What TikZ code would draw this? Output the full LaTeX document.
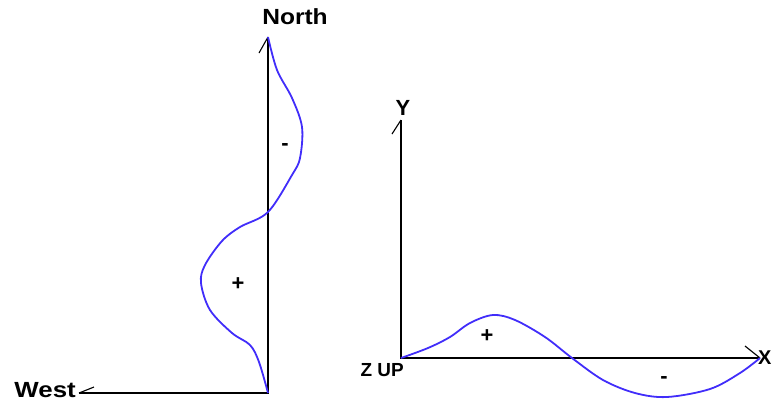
\documentclass[tikz,border=0pt]{standalone}
\usepackage{fontspec}
\setmainfont{Liberation Sans}
\begin{document}
\begin{tikzpicture}[x=1bp,y=-1bp,
  axis/.style={line width=1.2bp,black},
  tickln/.style={line width=1.1bp,black},
  wave/.style={line width=1.8bp,color=wavecol,line join=round},
  lbl/.style={font=\bfseries\fontsize{22}{22}\selectfont,inner sep=0pt},
  sign/.style={font=\bfseries\fontsize{22}{22}\selectfont,inner sep=0pt}]
\definecolor{wavecol}{RGB}{65,45,250}
\useasboundingbox (0,0) rectangle (772,404);
% left diagram
\coordinate (ntop) at (268,37);
\coordinate (norig) at (268,393);
\coordinate (wend) at (79,393);
\draw[axis] (ntop) -- (norig) -- (wend);
\coordinate (ntick) at (259,53);
\coordinate (wtick) at (94,387);
\draw[tickln] (ntop) -- (ntick);
\draw[tickln] (wend) -- (wtick);
\node[lbl,xscale=1.12] (north) at (295,17) {North};
\node[lbl,xscale=1.18,anchor=east] (west) at (76,390) {West};
\draw[wave] plot[smooth,tension=0.55] coordinates {(268,37) (277,70) (292,98) (302,127) (300,158) (292,175) (268,212) (240,227) (222,241) (205,265) (201,283) (210,310) (232,333) (250,345) (259,362) (268,393)};
\node[sign] (minusL) at (285,147) {-};
\node[sign] (plusL) at (238,284) {+};
% right diagram
\coordinate (ytop) at (401,120);
\coordinate (orig) at (401,358);
\coordinate (xend) at (760,358);
\draw[axis] (ytop) -- (orig) -- (xend);
\coordinate (ytick) at (392,134);
\coordinate (xtick) at (745,346);
\draw[tickln] (ytop) -- (ytick);
\draw[tickln] (xend) -- (xtick);
\node[lbl] (ylab) at (403,108) {Y};
\node[lbl,anchor=east,font=\bfseries\fontsize{20}{20}\selectfont] (xlab) at (771.5,358) {X};
\node[inner sep=0pt,anchor=east,font=\bfseries\fontsize{19}{19}\selectfont] (zup) at (404,370) {Z UP};
\draw[wave] plot[smooth,tension=0.55] coordinates {(401,358) (428,348) (450,337) (470,323) (493,315) (515,320) (545,337) (572,358) (603,380) (635,393) (667,397) (710,389) (740,373) (760,358)};
\node[sign] (plusR) at (487,336) {+};
\node[sign] (minusR) at (664,380) {-};
\end{tikzpicture}
\end{document}
